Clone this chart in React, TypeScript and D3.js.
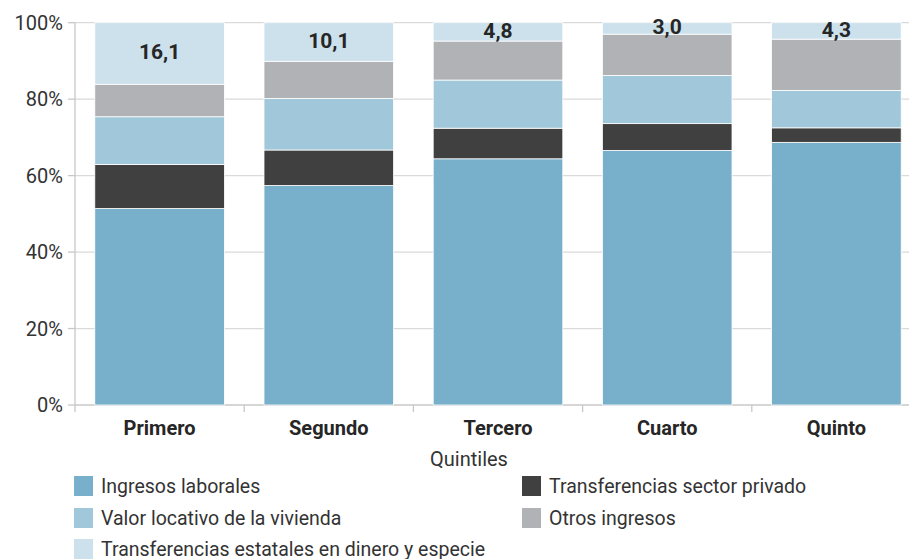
import React from "react";
import * as d3 from "d3";

const categories = ["Primero", "Segundo", "Tercero", "Cuarto", "Quinto"];
const seriesNames = [
  "Ingresos laborales",
  "Transferencias sector privado",
  "Valor locativo de la vivienda",
  "Otros ingresos",
  "Transferencias estatales en dinero y especie",
];
const laborales = [51.4, 57.4, 64.4, 66.6, 68.7];
const privado = [11.5, 9.3, 8.0, 7.0, 3.8];
const locativo = [12.5, 13.5, 12.6, 12.6, 9.8];
const otros = [8.5, 9.7, 10.2, 10.8, 13.4];
const estatales = [16.1, 10.1, 4.8, 3.0, 4.3];
const estatalesLabels = ["16,1", "10,1", "4,8", "3,0", "4,3"];
const yTicks = [0, 20, 40, 60, 80, 100];

const colors = ["#78b0cc", "#404040", "#a1c8da", "#b1b2b6", "#cde1ec"];
const FONT = "Roboto, 'Noto Sans', sans-serif";

export default function App() {
  const width = 909, height = 559;
  const x = d3.scaleBand().domain(categories).range([75, 921]).paddingInner(0.234).paddingOuter(0.117);
  const y = d3.scaleLinear().domain([0, 100]).range([405, 22.7]);

  const rows = categories.map((c, i) => ({
    cat: c,
    s0: laborales[i], s1: privado[i], s2: locativo[i], s3: otros[i], s4: estatales[i],
  }));
  const keys = ["s0", "s1", "s2", "s3", "s4"];
  const stacked = d3.stack<any>().keys(keys)(rows);

  const legend = [
    { i: 0, x: 74, y: 486 },
    { i: 1, x: 522, y: 486 },
    { i: 2, x: 74, y: 518 },
    { i: 3, x: 522, y: 518 },
    { i: 4, x: 74, y: 549 },
  ];

  return (
    <svg width={width} height={height} style={{ position: "absolute", left: 0, top: 0, fontFamily: FONT }}>
      <rect width={width} height={height} fill="#fff" />
      {/* grid */}
      {yTicks.map((t) => (
        <g key={t}>
          <line x1={75} x2={width} y1={y(t)} y2={y(t)} stroke={t === 0 ? "#c8c8c8" : "#dadada"} strokeWidth={1.3} />
          <line x1={68} x2={75} y1={y(t)} y2={y(t)} stroke="#c8c8c8" strokeWidth={1.3} />
          <text x={63} y={y(t)} textAnchor="end" dominantBaseline="central" fontSize={20} fill="#333">
            {t}%
          </text>
        </g>
      ))}
      <line x1={75} x2={75} y1={y(100)} y2={412} stroke="#c8c8c8" strokeWidth={1.3} />
      {categories.slice(1).map((c) => (
        <line key={c} x1={(x(c) as number) - x.step() * x.paddingInner() / 2} x2={(x(c) as number) - x.step() * x.paddingInner() / 2}
          y1={405} y2={412} stroke="#c8c8c8" strokeWidth={1.3} />
      ))}
      {/* bars */}
      {stacked.map((layer, k) => (
        <g key={k} fill={colors[k]}>
          {layer.map((d, i) => (
            <rect key={i} x={x(categories[i])} width={x.bandwidth()} y={y(d[1])} height={y(d[0]) - y(d[1])}
              stroke="#fff" strokeWidth={0.8} />
          ))}
        </g>
      ))}
      {/* labels on top segment */}
      {stacked[4].map((d, i) => (
        <text key={i} x={(x(categories[i]) as number) + x.bandwidth() / 2} y={(y(d[0]) + y(d[1])) / 2 - 1}
          textAnchor="middle" dominantBaseline="central" fontSize={21} fontWeight="bold" fill="#262626">
          {estatalesLabels[i]}
        </text>
      ))}
      {/* x labels */}
      {categories.map((c) => (
        <text key={c} x={(x(c) as number) + x.bandwidth() / 2} y={428} textAnchor="middle" dominantBaseline="central"
          fontSize={20} fontWeight="bold" fill="#262626">
          {c}
        </text>
      ))}
      <text x={469} y={459} textAnchor="middle" dominantBaseline="central" fontSize={20} fill="#333">
        Quintiles
      </text>
      {/* legend */}
      {legend.map((l) => (
        <g key={l.i}>
          <rect x={l.x} y={l.y - 10} width={19} height={20} fill={colors[l.i]} />
          <text x={l.x + 27} y={l.y} dominantBaseline="central" fontSize={19.5} fill="#333">
            {seriesNames[l.i]}
          </text>
        </g>
      ))}
    </svg>
  );
}
